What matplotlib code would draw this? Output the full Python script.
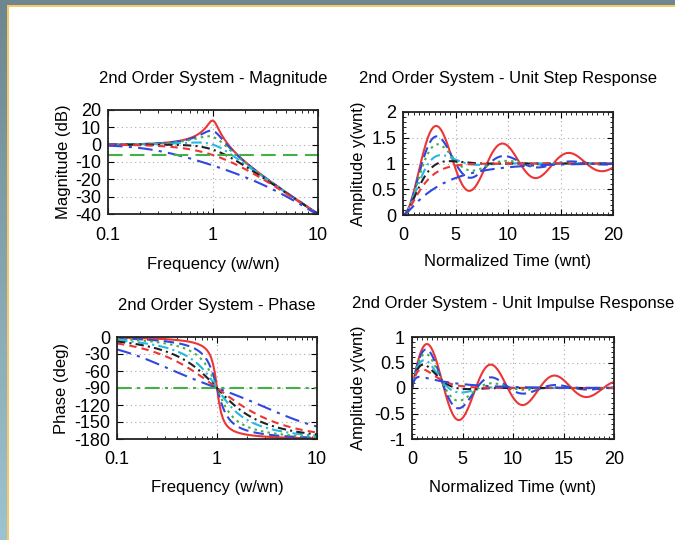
import numpy as np
import matplotlib
matplotlib.use('Agg')
import matplotlib.pyplot as plt
from matplotlib.patches import Rectangle
from matplotlib.ticker import AutoMinorLocator, LogLocator, NullFormatter

plt.rcParams['font.family'] = ['Liberation Sans', 'DejaVu Sans']

damping = [0.1, 0.2, 0.3, 0.5, 0.7, 1.0, 2.0]
colors = ['#ee3535', '#3048dd', '#45b045', '#25b8e0', '#222222', '#ee3535', '#3048dd']
styles = ['-', (0, (5, 2.5)), (0, (1.2, 2)), (0, (5, 2, 1, 2)), (0, (4, 2, 1, 2)),
          (0, (3.5, 2.5)), (0, (7, 3, 1.5, 3))]

ref_mag_db = -6
ref_phase = -90

freq = np.logspace(-1, 1, 101)
time = np.arange(0, 20.001, 0.1)


def poles(z):
    if z == 1.0:
        z = 1.0 + 1e-6
    r = np.lib.scimath.sqrt(z * z - 1)
    return -z + r, -z - r


def step(z, t):
    p1, p2 = poles(z)
    return np.real(1 + (p2 * np.exp(p1 * t) - p1 * np.exp(p2 * t)) / (p1 - p2))


def impulse(z, t):
    p1, p2 = poles(z)
    return np.real((np.exp(p1 * t) - np.exp(p2 * t)) / (p1 - p2))


fig = plt.figure(figsize=(6.75, 5.4), dpi=100)

# frame round the slide
bg = fig.add_axes([0, 0, 1, 1], zorder=-10)
bg.set_xlim(0, 675)
bg.set_ylim(540, 0)
bg.axis('off')
grad = np.linspace(0, 1, 256).reshape(-1, 1)
c1 = np.array([0x6e, 0x86, 0x90]) / 255
c2 = np.array([0x9d, 0xc3, 0xd1]) / 255
img = c1 + (c2 - c1) * grad[:, :, None]
bg.imshow(img, extent=[0, 7, 540, 0], aspect='auto')
bg.add_patch(Rectangle((0, 0), 675, 5, color='#6e8690', lw=0))
bg.add_patch(Rectangle((7, 5), 668, 2, color='#f7c866', lw=0))
bg.add_patch(Rectangle((7, 5), 2, 535, color='#f7c866', lw=0))

W, H = 675.0, 540.0


def make_ax(l, r, t, b):
    return fig.add_axes([l / W, 1 - b / H, (r - l) / W, (b - t) / H])


ax1 = make_ax(108, 318, 110, 214)
ax2 = make_ax(403, 613, 112, 215)
ax3 = make_ax(117, 317, 337, 439)
ax4 = make_ax(412, 614, 337, 439)

for z, c, ls in zip(damping, colors, styles):
    Hj = 1.0 / (1 - freq ** 2 + 2j * z * freq)
    ax1.semilogx(freq, 20 * np.log10(np.abs(Hj)), color=c, ls=ls, lw=1.5)
    ax3.semilogx(freq, np.degrees(np.angle(Hj)), color=c, ls=ls, lw=1.5)
    ax2.plot(time, step(z, time), color=c, ls=ls, lw=1.5)
    ax4.plot(time, impulse(z, time), color=c, ls=ls, lw=1.5)

ax1.axhline(ref_mag_db, color='#45b045', ls=(0, (7, 3.5)), lw=1.5)
ax3.axhline(ref_phase, color='#45b045', ls=(0, (7, 2.5, 1.5, 2.5)), lw=1.5)

ax1.set_xlim(0.1, 10)
ax1.set_ylim(-40, 20)
ax1.set_yticks([-40, -30, -20, -10, 0, 10, 20])
ax3.set_xlim(0.1, 10)
ax3.set_ylim(-180, 0)
ax3.set_yticks([-180, -150, -120, -90, -60, -30, 0])
ax2.set_xlim(0, 20)
ax2.set_ylim(0, 2)
ax2.set_xticks([0, 5, 10, 15, 20])
ax2.set_yticks([0, 0.5, 1, 1.5, 2])
ax2.set_yticklabels(['0', '0.5', '1', '1.5', '2'])
ax4.set_xlim(0, 20)
ax4.set_ylim(-1, 1)
ax4.set_xticks([0, 5, 10, 15, 20])
ax4.set_yticks([-1, -0.5, 0, 0.5, 1])
ax4.set_yticklabels(['-1', '-0.5', '0', '0.5', '1'])

for ax in (ax1, ax3):
    ax.set_xticks([0.1, 1, 10])
    ax.set_xticklabels(['0.1', '1', '10'])
    ax.xaxis.set_minor_locator(LogLocator(base=10, subs=np.arange(2, 10)))
    ax.xaxis.set_minor_formatter(NullFormatter())
    ax.set_yticklabels([str(v) for v in ax.get_yticks().astype(int)])
for ax in (ax2, ax4):
    ax.xaxis.set_minor_locator(AutoMinorLocator(10))
    ax.yaxis.set_minor_locator(AutoMinorLocator(5))

titles = ['2nd Order System - Magnitude', '2nd Order System - Unit Step Response',
          '2nd Order System - Phase', '2nd Order System - Unit Impulse Response']
xlabels = ['Frequency (w/wn)', 'Normalized Time (wnt)', 'Frequency (w/wn)', 'Normalized Time (wnt)']
ylabels = ['Magnitude (dB)', 'Amplitude y(wnt)', 'Phase (deg)', 'Amplitude y(wnt)']
title_y = [1.30, 1.33, 1.31, 1.33]
xlab_y = [-0.49, -0.456, -0.48, -0.48]
ylab_x = [-0.214, -0.214, -0.275, -0.267]

for i, ax in enumerate((ax1, ax2, ax3, ax4)):
    ax.set_title(titles[i], fontsize=12, y=title_y[i], va='center', pad=0)
    ax.set_xlabel(xlabels[i], fontsize=12, va='center')
    ax.set_ylabel(ylabels[i], fontsize=12, va='center')
    ax.xaxis.set_label_coords(0.5, xlab_y[i])
    ax.yaxis.set_label_coords(ylab_x[i], 0.5)
    ax.tick_params(which='both', direction='in', top=True, right=True, labelsize=13)
    ax.tick_params(axis='x', which='both', pad=9)
    ax.tick_params(axis='y', which='both', pad=5)
    ax.tick_params(which='major', length=4, width=0.8)
    ax.tick_params(which='minor', length=2, width=0.6)
    ax.grid(True, which='major', color='#aaaaaa', ls=(0, (1, 3)), lw=0.8)
    for s in ax.spines.values():
        s.set_linewidth(1.3)
        s.set_color('#222222')

fig.savefig('out.png', dpi=100, facecolor='white')
